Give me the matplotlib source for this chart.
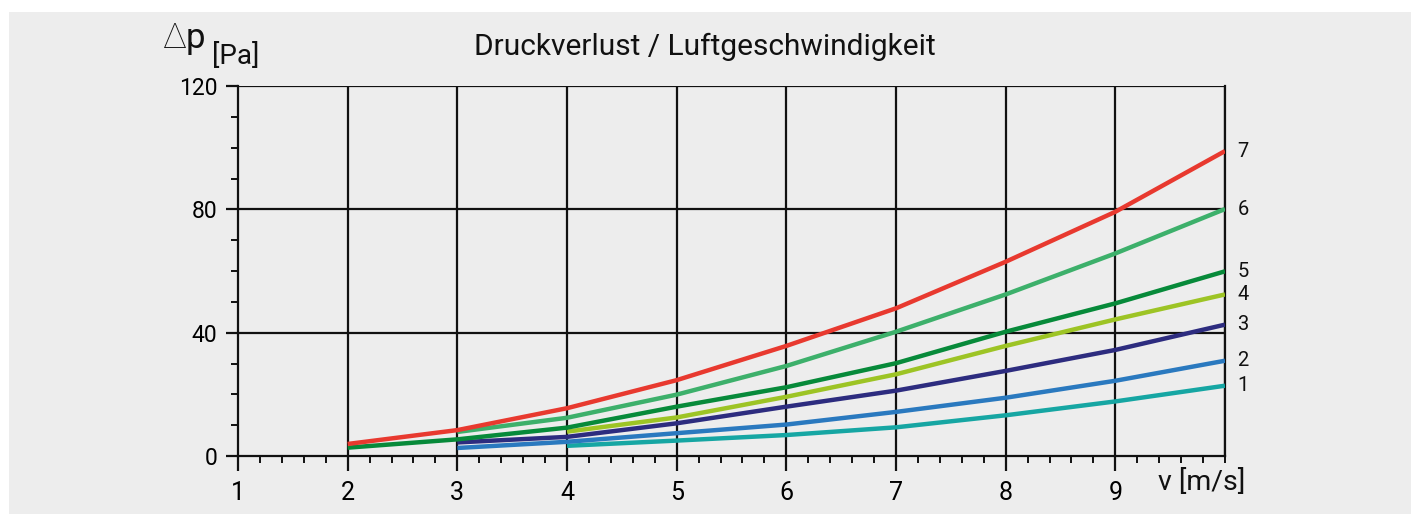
import matplotlib
matplotlib.use("Agg")
import matplotlib.pyplot as plt
from matplotlib.patches import Rectangle
from matplotlib.ticker import MultipleLocator

plt.rcParams['font.family'] = ['Roboto', 'DejaVu Sans']

title = "Druckverlust / Luftgeschwindigkeit"
curve_labels = ["1", "2", "3", "4", "5", "6", "7"]
curve_colors = ["#16A6A3", "#2A79BF", "#2D2C7F", "#9DC425", "#078A3A", "#3DB06B", "#E8392F"]

v1 = [4, 5, 6, 7, 8, 9, 10]
p1 = [3.3, 5.0, 6.8, 9.3, 13.2, 17.7, 22.8]
v2 = [3, 4, 5, 6, 7, 8, 9, 10]
p2 = [2.6, 4.6, 7.4, 10.2, 14.3, 18.9, 24.4, 30.9]
v3 = [3, 4, 5, 6, 7, 8, 9, 10]
p3 = [4.4, 6.2, 10.6, 16.0, 21.2, 27.6, 34.4, 42.6]
v4 = [4, 5, 6, 7, 8, 9, 10]
p4 = [7.9, 12.5, 19.2, 26.5, 35.7, 44.3, 52.4]
v5 = [2, 3, 4, 5, 6, 7, 8, 9, 10]
p5 = [2.7, 5.4, 9.2, 16.0, 22.3, 30.1, 40.3, 49.5, 59.9]
v6 = [3, 4, 5, 6, 7, 8, 9, 10]
p6 = [7.8, 12.4, 19.9, 29.2, 40.3, 52.4, 65.7, 80.1]
v7 = [2, 3, 4, 5, 6, 7, 8, 9, 10]
p7 = [3.9, 8.4, 15.5, 24.6, 35.7, 47.9, 63.0, 79.2, 98.9]

series_v = [v1, v2, v3, v4, v5, v6, v7]
series_p = [p1, p2, p3, p4, p5, p6, p7]

x_ticks = [1, 2, 3, 4, 5, 6, 7, 8, 9]
y_ticks = [0, 40, 80, 120]

W, H = 1411, 514
fig = plt.figure(figsize=(W / 100, H / 100), dpi=100)
fig.patch.set_facecolor("white")
bg = "#EDEDED"
fig.patches.append(Rectangle((9 / W, 0), 1, 1 - 12 / H, transform=fig.transFigure,
                             facecolor=bg, edgecolor="none", zorder=-10))

ax = fig.add_axes([238 / W, 1 - 456 / H, (1225 - 238) / W, (456 - 86) / H])
ax.set_facecolor(bg)
ax.set_xlim(1, 10)
ax.set_ylim(0, 120)

# grid
for xv in range(2, 11):
    ax.axvline(xv, color="#111111", lw=1.6, zorder=1)
for yv in [40, 80, 120]:
    ax.axhline(yv, color="#111111", lw=1.6, zorder=1)

for v, p, c in zip(series_v, series_p, curve_colors):
    ax.plot(v, p, color=c, lw=3.2, solid_capstyle="butt", zorder=3)

for lab, p in zip(curve_labels, series_p):
    ax.annotate(lab, xy=(10, p[-1]), xytext=(9, 0), textcoords="offset points",
                ha="left", va="center", fontsize=14.5, color="#111111",
                annotation_clip=False)

ax.spines["top"].set_visible(False)
for s in ["left", "bottom", "right"]:
    ax.spines[s].set_linewidth(1.6)
    ax.spines[s].set_color("#111111")

ax.set_xticks(x_ticks)
ax.set_xticklabels([str(t) for t in x_ticks])
ax.set_yticks(y_ticks)
ax.set_yticklabels([str(t) for t in y_ticks])
ax.xaxis.set_minor_locator(MultipleLocator(0.2))
ax.yaxis.set_minor_locator(MultipleLocator(10))
ax.tick_params(axis="x", which="major", direction="out", length=11, width=1.6,
               labelsize=18, pad=7, color="#111111")
ax.tick_params(axis="x", which="minor", direction="out", length=5, width=1.4, color="#111111")
ax.tick_params(axis="y", which="major", direction="out", length=9, width=1.6,
               labelsize=16.5, pad=6, color="#111111")
ax.tick_params(axis="y", which="minor", direction="out", length=5, width=1.4, color="#111111")

fig.text(705 / W, 1 - 55 / H, title, ha="center", va="baseline", fontsize=21.5, color="#111111")
fig.text(162 / W, 1 - 48 / H, "Δ", ha="left", va="baseline", fontsize=25,
         fontweight="light", color="#111111")
fig.text(186 / W, 1 - 48 / H, "p", ha="left", va="baseline", fontsize=25, color="#111111")
fig.text(212 / W, 1 - 64 / H, "[Pa]", ha="left", va="baseline", fontsize=20, color="#111111")
fig.text(1158 / W, 1 - 490 / H, "v [m/s]", ha="left", va="baseline", fontsize=20.5, color="#111111")

fig.savefig("out.png", dpi=100, facecolor=fig.get_facecolor())
